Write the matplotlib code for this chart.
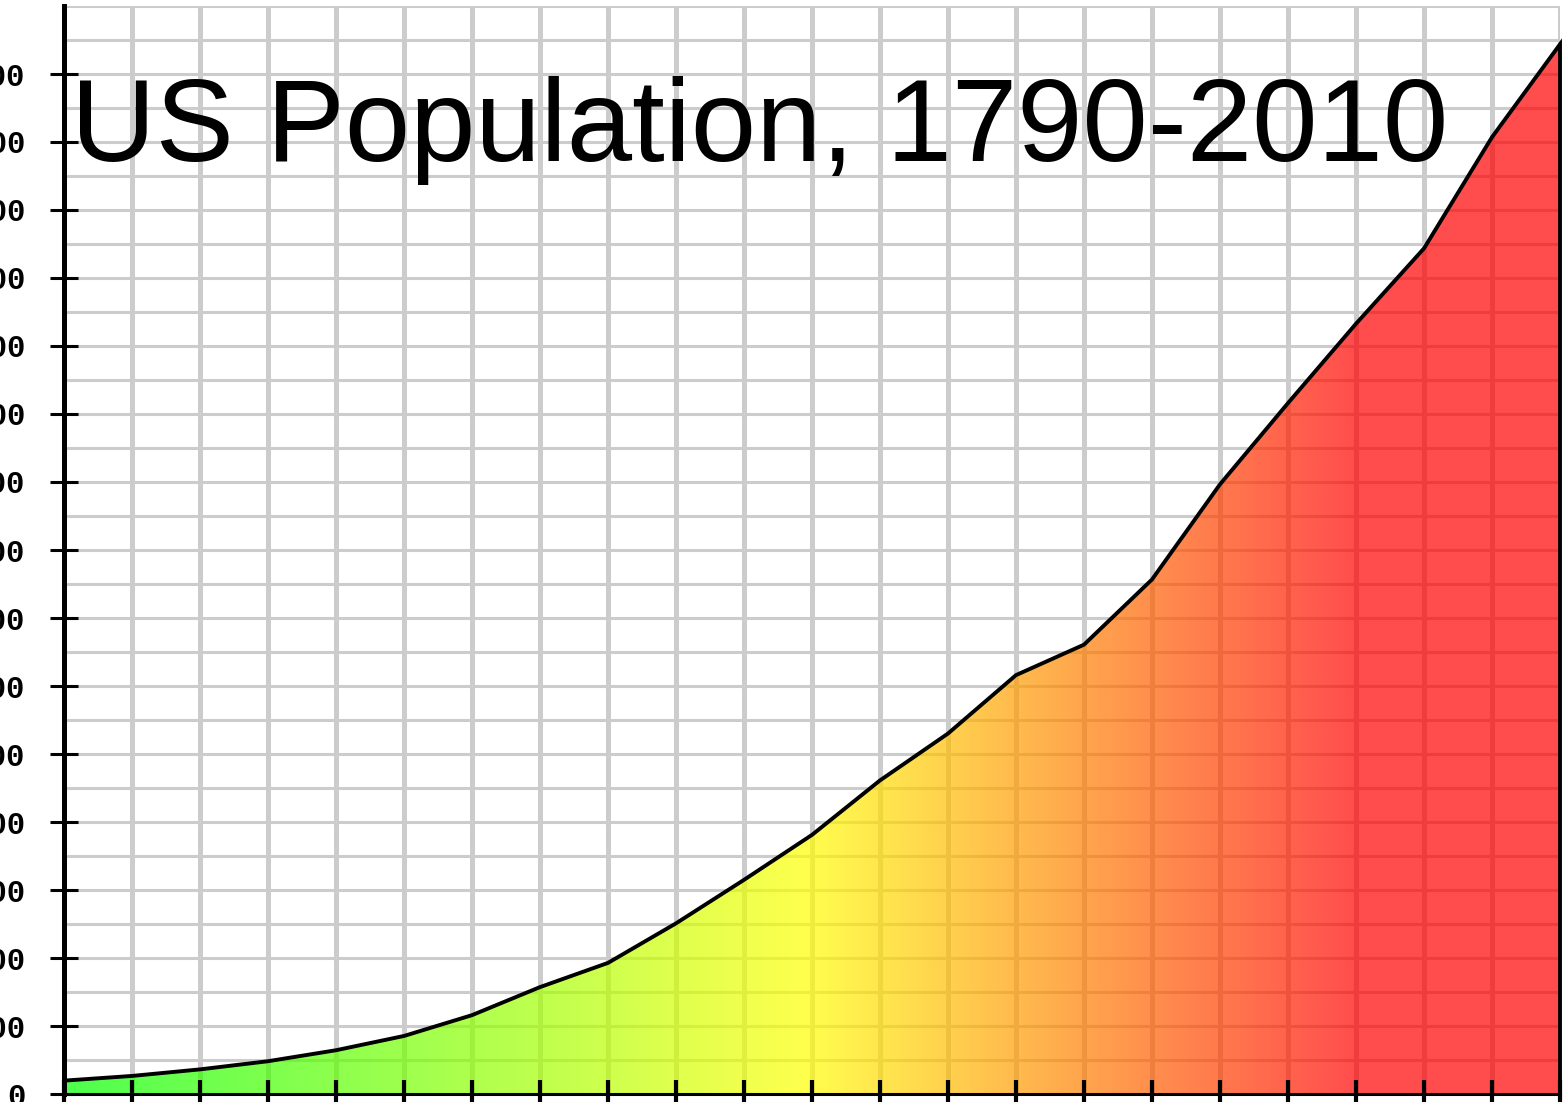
import numpy as np
import matplotlib
matplotlib.use("Agg")
import matplotlib.pyplot as plt
from matplotlib.patches import Polygon

# census years and population (millions)
years = [1790, 1800, 1810, 1820, 1830, 1840, 1850, 1860, 1870, 1880, 1890, 1900,
         1910, 1920, 1930, 1940, 1950, 1960, 1970, 1980, 1990, 2000, 2010]
population = [3.93, 5.31, 7.24, 9.64, 12.87, 17.07, 23.19, 31.44, 38.56, 50.19,
              62.98, 76.21, 92.23, 106.02, 123.20, 132.16, 151.33, 179.32,
              203.21, 226.55, 248.71, 281.42, 308.75]

y_ticks = list(range(0, 301, 20))
y_labels = [str(v * 1000000) for v in y_ticks]
title = "US Population, 1790-2010"

# gradient stops: year -> colour
grad_years = [1790, 1899, 1980, 2010]
grad_colors = [(0.0, 1.0, 0.0), (1.0, 1.0, 0.0), (1.0, 0.0, 0.0), (1.0, 0.0, 0.0)]

W, H = 1566, 1102
fig = plt.figure(figsize=(W / 100, H / 100), dpi=100)
ax = fig.add_axes([64 / W, (H - 1094) / H, (1560 - 64) / W, (1094 - 6) / H])
ax.set_xlim(1790, 2010)
ax.set_ylim(0, 320)

# grid
for yv in range(10, 321, 10):
    ax.axhline(yv, color="#cccccc", lw=2.2, zorder=0.5)
for xv in range(1800, 2011, 10):
    ax.axvline(xv, color="#cccccc", lw=3.6, zorder=0.5)

# gradient fill clipped to the area under the curve
xs = np.linspace(1790, 2010, 1000)
cols = np.stack([np.interp(xs, grad_years, [c[i] for c in grad_colors]) for i in range(3)], axis=-1)
img = cols[np.newaxis, :, :]
poly_pts = list(zip(years, population)) + [(2010, 0), (1790, 0)]
poly = Polygon(poly_pts, closed=True, facecolor="none", edgecolor="none")
ax.add_patch(poly)
im = ax.imshow(img, extent=[1790, 2010, 0, 320], aspect="auto", alpha=0.7,
               origin="lower", zorder=1, interpolation="bilinear")
im.set_clip_path(poly)

# outline
ax.plot(years + [2010], population + [0], color="black", lw=2.8, zorder=3,
        solid_joinstyle="miter", clip_on=False)

# axes styling
for side in ["top", "right"]:
    ax.spines[side].set_visible(False)
ax.spines["left"].set_linewidth(3.6)
ax.spines["bottom"].set_linewidth(2.2)
ax.spines["left"].set_zorder(4)
ax.spines["bottom"].set_zorder(4)

ax.set_xticks(range(1790, 2011, 10))
ax.set_yticks(y_ticks)
ax.set_yticklabels(y_labels, family="Liberation Mono", fontweight="bold", fontsize=22)
ax.tick_params(axis="x", direction="inout", length=20, width=3, labelbottom=False)
ax.tick_params(axis="y", direction="inout", length=20, width=2.2, pad=18)

ax.text(1791.0, 274.5, title, fontsize=84.5, family="Liberation Sans", color="black",
        ha="left", va="baseline", zorder=5)

fig.savefig("out.png", dpi=100)
